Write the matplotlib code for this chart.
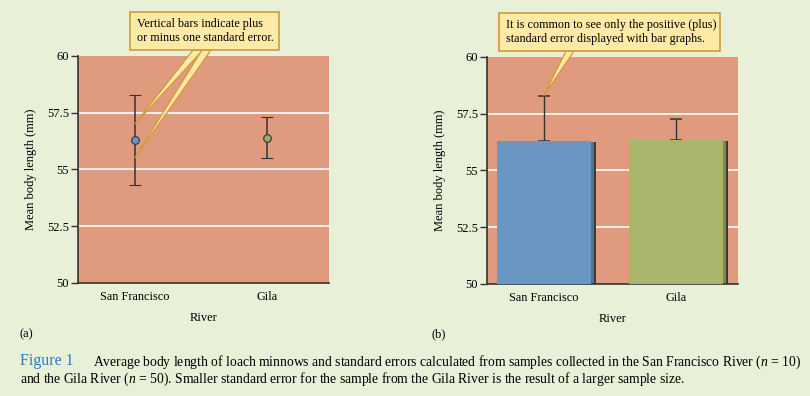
import matplotlib.pyplot as plt
from matplotlib.patches import Polygon, Rectangle

# data
rivers = ["San Francisco", "Gila"]
means = [56.3, 56.35]
std_err = [2.0, 0.9]
point_colors = ["#6A97C3", "#9AAB5E"]
bar_colors = ["#6A97C2", "#A9B56A"]
shade_colors = ["#4A73A0", "#7F8A4C"]
yticks = [50, 52.5, 55, 57.5, 60]
ytick_labels = ["50", "52.5", "55", "57.5", "60"]

bg = "#E8F0D8"
plot_bg = "#E09A7E"
note_fc = "#FDEAA6"
note_ec = "#D39A35"
serif = ["Liberation Serif", "DejaVu Serif"]

plt.rcParams["font.family"] = serif
plt.rcParams["mathtext.fontset"] = "custom"
plt.rcParams["mathtext.rm"] = "Liberation Serif"
plt.rcParams["mathtext.it"] = "Liberation Serif:italic"

W, H = 810, 396
fig = plt.figure(figsize=(W / 100, H / 100), dpi=100, facecolor=bg)


def px_axes(x0, y0, x1, y1):
    # pixel box (top-left origin) -> axes
    return fig.add_axes([x0 / W, 1 - y1 / H, (x1 - x0) / W, (y1 - y0) / H])


def style_axes(ax):
    ax.set_facecolor(plot_bg)
    ax.set_xlim(-0.43, 1.47)
    ax.set_ylim(50, 60)
    ax.set_yticks(yticks)
    ax.set_yticklabels(ytick_labels, fontsize=9)
    ax.set_xticks(range(len(rivers)))
    ax.set_xticklabels(rivers, fontsize=8.8)
    ax.tick_params(axis="x", length=0, pad=6)
    ax.tick_params(axis="y", length=5, width=1, color="#333333", pad=1.5)
    for s in ["top", "right"]:
        ax.spines[s].set_visible(False)
    for s in ["left", "bottom"]:
        ax.spines[s].set_color("#333333")
        ax.spines[s].set_linewidth(1.2)
    for y in yticks[1:-1]:
        ax.axhline(y, color="white", lw=1.2, zorder=1)
    ax.set_xlabel("River", fontsize=9, labelpad=6)
    ax.set_ylabel("Mean body length (mm)", fontsize=9, labelpad=7)


def note(x0, y0, x1, y1, text, tx, ty):
    fig.patches.append(Rectangle((x0 / W, 1 - y1 / H), (x1 - x0) / W, (y1 - y0) / H,
                                 transform=fig.transFigure, fc=note_fc, ec=note_ec,
                                 lw=1.2, zorder=5))
    fig.text(tx / W, 1 - ty / H, text, fontsize=8.7, va="center", ha="left",
             linespacing=1.2, zorder=6)


def pointer(ax, bx0, bx1, by, xd, yd):
    tip = ax.transData.transform((xd, yd))
    pts = [(bx0, H - by), (bx1, H - by), (tip[0], tip[1])]
    fig.patches.append(Polygon(pts, closed=True, transform=None, fc=note_fc,
                               ec=note_ec, lw=0.9, zorder=4))


# (a) means with +/- one standard error
ax1 = px_axes(78, 56, 329, 283)
style_axes(ax1)
for i in range(len(rivers)):
    ax1.errorbar(i, means[i] + (0.05 if i else 0), yerr=std_err[i], fmt="o",
                 color="#333333", ms=5.5, mfc=point_colors[i], mec="#333333",
                 mew=0.8, capsize=4, elinewidth=1.1, capthick=1.1, zorder=3)

# (b) bars with only the positive standard error
ax2 = px_axes(487, 57, 738, 284)
style_axes(ax2)
xs = list(range(len(rivers)))
ax2.bar([x + 0.038 for x in xs], [m - 50 - 0.06 for m in means], bottom=50,
        width=0.71, color="#3a3a3a", zorder=2)
ax2.bar([x + 0.022 for x in xs], [m - 50 - 0.03 for m in means], bottom=50,
        width=0.71, color=shade_colors, zorder=2.5)
ax2.bar(xs, [m - 50 for m in means], bottom=50, width=0.71, color=bar_colors,
        zorder=3)
ax2.errorbar(xs, means, yerr=[[0, 0], std_err], fmt="none",
             ecolor="#333333", capsize=4, elinewidth=1.0, capthick=1.1, zorder=2)

# callouts
pointer(ax1, 193, 203, 50, 0, 57.0)
pointer(ax1, 202, 211, 50, 0, 55.5)
note(130, 12, 279, 50, "Vertical bars indicate plus\nor minus one standard error.", 137, 31)
pointer(ax2, 566, 574, 51, 0, means[0] + std_err[0])
note(499, 13, 720, 51, "It is common to see only the positive (plus)\n"
     "standard error displayed with bar graphs.", 506, 32)

fig.text(20 / W, 1 - 334 / H, "(a)", fontsize=9, va="center")
fig.text(432 / W, 1 - 334 / H, "(b)", fontsize=9, va="center")

# caption
fig.text(20 / W, 1 - 361 / H, "Figure 1", fontsize=11.5, color="#2B7BC0",
         va="center")
fig.text(93 / W, 1 - 362 / H,
         "Average body length of loach minnows and standard errors calculated "
         "from samples collected in the San Francisco River ($n$ = 10)",
         fontsize=9.8, va="center")
fig.text(20 / W, 1 - 379 / H,
         "and the Gila River ($n$ = 50). Smaller standard error for the sample "
         "from the Gila River is the result of a larger sample size.",
         fontsize=9.8, va="center")

fig.savefig("out.png", dpi=100, facecolor=bg)
